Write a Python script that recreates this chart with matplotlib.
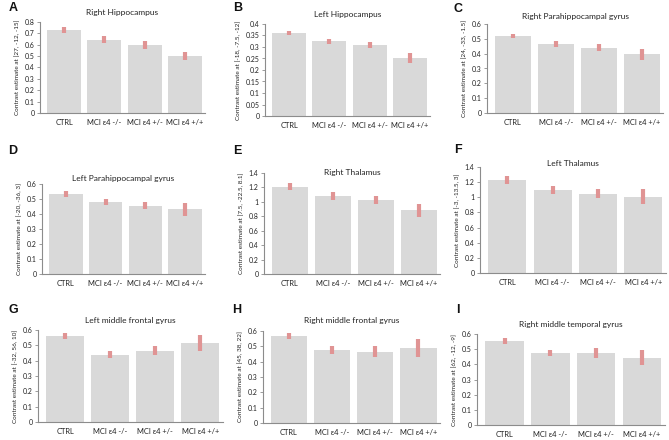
import matplotlib
matplotlib.use("Agg")
import matplotlib.pyplot as plt
import numpy as np

plt.rcParams["font.family"] = ["Lato", "DejaVu Sans"]

groups = ["CTRL", "MCI ε4 -/-", "MCI ε4 +/-", "MCI ε4 +/+"]

titles = ["Right Hippocampus", "Left Hippocampus", "Right Parahippocampal gyrus",
          "Left Parahippocampal gyrus", "Right Thalamus", "Left Thalamus",
          "Left middle frontal gyrus", "Right middle frontal gyrus", "Right middle temporal gyrus"]
letters = ["A", "B", "C", "D", "E", "F", "G", "H", "I"]
ylabels = ["Contrast estimate at [27, -12, -15]", "Contrast estimate at [-18, -7.5, -12]",
           "Contrast estimate at [24, -33, -1.5]", "Contrast estimate at [-20, -36, 3]",
           "Contrast estimate at [7.5, -22.5, 8.1]", "Contrast estimate at [-3, -13.5, 3]",
           "Contrast estimate at [-32, 56, 10]", "Contrast estimate at [45, 38, 22]",
           "Contrast estimate at [62, -12, -9]"]

vals_A = [0.73, 0.645, 0.595, 0.50]
err_A = [0.03, 0.03, 0.035, 0.035]
vals_B = [0.36, 0.325, 0.308, 0.252]
err_B = [0.01, 0.01, 0.012, 0.022]
vals_C = [0.52, 0.465, 0.44, 0.395]
err_C = [0.015, 0.018, 0.022, 0.035]
vals_D = [0.53, 0.48, 0.455, 0.43]
err_D = [0.02, 0.02, 0.025, 0.045]
vals_E = [1.21, 1.08, 1.025, 0.885]
err_E = [0.05, 0.05, 0.06, 0.09]
vals_F = [1.225, 1.10, 1.045, 1.01]
err_F = [0.05, 0.05, 0.06, 0.095]
vals_G = [0.56, 0.44, 0.465, 0.515]
err_G = [0.02, 0.02, 0.03, 0.055]
vals_H = [0.57, 0.475, 0.465, 0.49]
err_H = [0.02, 0.025, 0.035, 0.06]
vals_I = [0.555, 0.475, 0.475, 0.445]
err_I = [0.02, 0.02, 0.03, 0.05]

values = [vals_A, vals_B, vals_C, vals_D, vals_E, vals_F, vals_G, vals_H, vals_I]
errors = [err_A, err_B, err_C, err_D, err_E, err_F, err_G, err_H, err_I]

yticks_list = [
    ([0, 0.1, 0.2, 0.3, 0.4, 0.5, 0.6, 0.7, 0.8], ["0", "0.1", "0.2", "0.3", "0.4", "0.5", "0.6", "0.7", "0.8"]),
    ([0, 0.05, 0.1, 0.15, 0.2, 0.25, 0.3, 0.35, 0.4], ["0", "0.05", "0.1", "0.15", "0.2", "0.25", "0.3", "0.35", "0.4"]),
    ([0, 0.1, 0.2, 0.3, 0.4, 0.5, 0.6], ["0", "0.1", "0.2", "0.3", "0.4", "0.5", "0.6"]),
    ([0, 0.1, 0.2, 0.3, 0.4, 0.5, 0.6], ["0", "0.1", "0.2", "0.3", "0.4", "0.5", "0.6"]),
    ([0, 0.2, 0.4, 0.6, 0.8, 1.0, 1.2, 1.4], ["0", "0.2", "0.4", "0.6", "0.8", "1", "1.2", "1.4"]),
    ([0, 0.2, 0.4, 0.6, 0.8, 1.0, 1.2, 1.4], ["0", "0.2", "0.4", "0.6", "0.8", "1", "1.2", "1.4"]),
    ([0, 0.1, 0.2, 0.3, 0.4, 0.5, 0.6], ["0", "0.1", "0.2", "0.3", "0.4", "0.5", "0.6"]),
    ([0, 0.1, 0.2, 0.3, 0.4, 0.5, 0.6], ["0", "0.1", "0.2", "0.3", "0.4", "0.5", "0.6"]),
    ([0, 0.1, 0.2, 0.3, 0.4, 0.5, 0.6], ["0", "0.1", "0.2", "0.3", "0.4", "0.5", "0.6"]),
]

W, H = 669, 440
# axes boxes in pixels: left, top, right, bottom
boxes = [(40, 22, 205, 113), (265, 24, 430, 116), (487, 24, 663, 113),
         (42, 184, 205, 274), (264, 173, 440, 274), (480, 167, 666, 273),
         (38, 330, 223, 422), (263, 331, 440, 423), (477, 334, 665, 425)]
title_y = [12, 14, 17, 178, 173, 163, 320, 321, 324]
letter_pos = [(13, 8), (238, 8), (458, 9), (13, 151), (237, 151), (458, 150),
              (13, 310), (237, 310), (458, 310)]

fig = plt.figure(figsize=(W / 100, H / 100), dpi=100)
fig.patch.set_facecolor("white")

bar_color = "#d9d9d9"
err_color = "#e09494"
spine_color = "#8c8c8c"

for i in range(9):
    l, t, r, b = boxes[i]
    ax = fig.add_axes([l / W, 1 - b / H, (r - l) / W, (b - t) / H])
    x = np.arange(len(groups))
    ax.bar(x, values[i], width=0.84, color=bar_color, zorder=1)
    ax.errorbar(x, values[i], yerr=errors[i], fmt="none", ecolor=err_color,
                elinewidth=3, capsize=0, zorder=2)
    ticks, labels = yticks_list[i]
    ax.set_ylim(0, ticks[-1])
    ax.set_yticks(ticks)
    ax.set_yticklabels(labels, fontsize=5, color="#222222")
    ax.set_xlim(-0.6, 3.5)
    ax.set_xticks(x)
    ax.set_xticklabels(groups, fontsize=5.4, color="#222222")
    ax.tick_params(axis="x", length=0, pad=4)
    ax.tick_params(axis="y", length=2, width=0.6, color=spine_color, pad=2)
    for s in ["top", "right"]:
        ax.spines[s].set_visible(False)
    for s in ["left", "bottom"]:
        ax.spines[s].set_color(spine_color)
        ax.spines[s].set_linewidth(0.8)
    ax.set_ylabel(ylabels[i], fontsize=4.6, color="#222222", labelpad=3)
    ax.set_facecolor("white")
    fig.text(((l + r) / 2) / W, 1 - title_y[i] / H, titles[i], ha="center", va="center",
             fontsize=6, color="#222222")
    lx, ly = letter_pos[i]
    fig.text(lx / W, 1 - ly / H, letters[i], ha="center", va="center",
             fontsize=9, fontweight="bold", color="#111111",
             family=["Liberation Sans", "DejaVu Sans"])

fig.savefig("out.png", dpi=100, facecolor="white")
